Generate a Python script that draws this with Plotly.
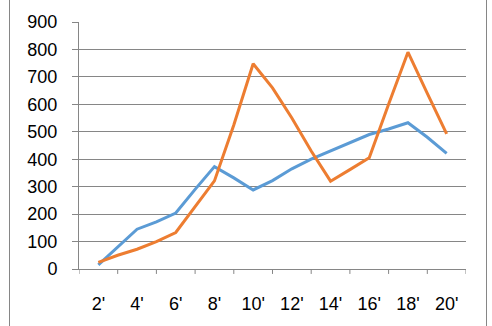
import plotly.graph_objects as go

x_vals = list(range(2, 21))
blue = [15, 80, 145, 172, 204, 290, 373, 332, 288, 322, 365, 400, 430, 460, 490, 510, 533, 480, 421]
orange = [24, 50, 72, 100, 133, 225, 321, 525, 748, 660, 550, 430, 320, 362, 405, 600, 790, 640, 492]
tick_vals = list(range(2, 21, 2))
tick_text = ["2'", "4'", "6'", "8'", "10'", "12'", "14'", "16'", "18'", "20'"]

W, H = 492, 326
L, R, T, B = 79, 26, 21, 55
pw = W - L - R

fig = go.Figure()
fig.add_trace(go.Scatter(x=x_vals, y=blue, mode="lines",
                         line=dict(color="#5B9BD5", width=3), showlegend=False))
fig.add_trace(go.Scatter(x=x_vals, y=orange, mode="lines",
                         line=dict(color="#ED7D31", width=3), showlegend=False))

fig.update_layout(
    width=W, height=H,
    margin=dict(l=L, r=R, t=T, b=B, pad=0),
    paper_bgcolor="white", plot_bgcolor="white",
    font=dict(family="Liberation Sans, Arial, sans-serif", size=18, color="#000000"),
    xaxis=dict(range=[1, 21], tickmode="array", tickvals=tick_vals, ticktext=tick_text,
               showgrid=False, zeroline=False, showline=True, linecolor="#868686", linewidth=1,
               ticks="", ticklabelstandoff=18),
    yaxis=dict(range=[0, 900], tickmode="array", tickvals=list(range(0, 901, 100)),
               showgrid=True, gridcolor="#868686", gridwidth=1, zeroline=False,
               showline=True, linecolor="#868686", linewidth=1,
               ticks="outside", ticklen=6, tickcolor="#868686", ticklabelstandoff=11),
)

# x tick marks at category boundaries (odd positions)
for i in range(1, 22, 2):
    fig.add_shape(type="line", xref="x", yref="paper", x0=i, x1=i, y0=0, y1=-5 / (H - T - B),
                  line=dict(color="#868686", width=1))

# outer chart border (left and right)
for px in (9.5, 486.5):
    xp = (px - L) / pw
    fig.add_shape(type="line", xref="paper", yref="paper", x0=xp, x1=xp, y0=-1, y1=2,
                  line=dict(color="#868686", width=1))

fig.write_html("out.html")
